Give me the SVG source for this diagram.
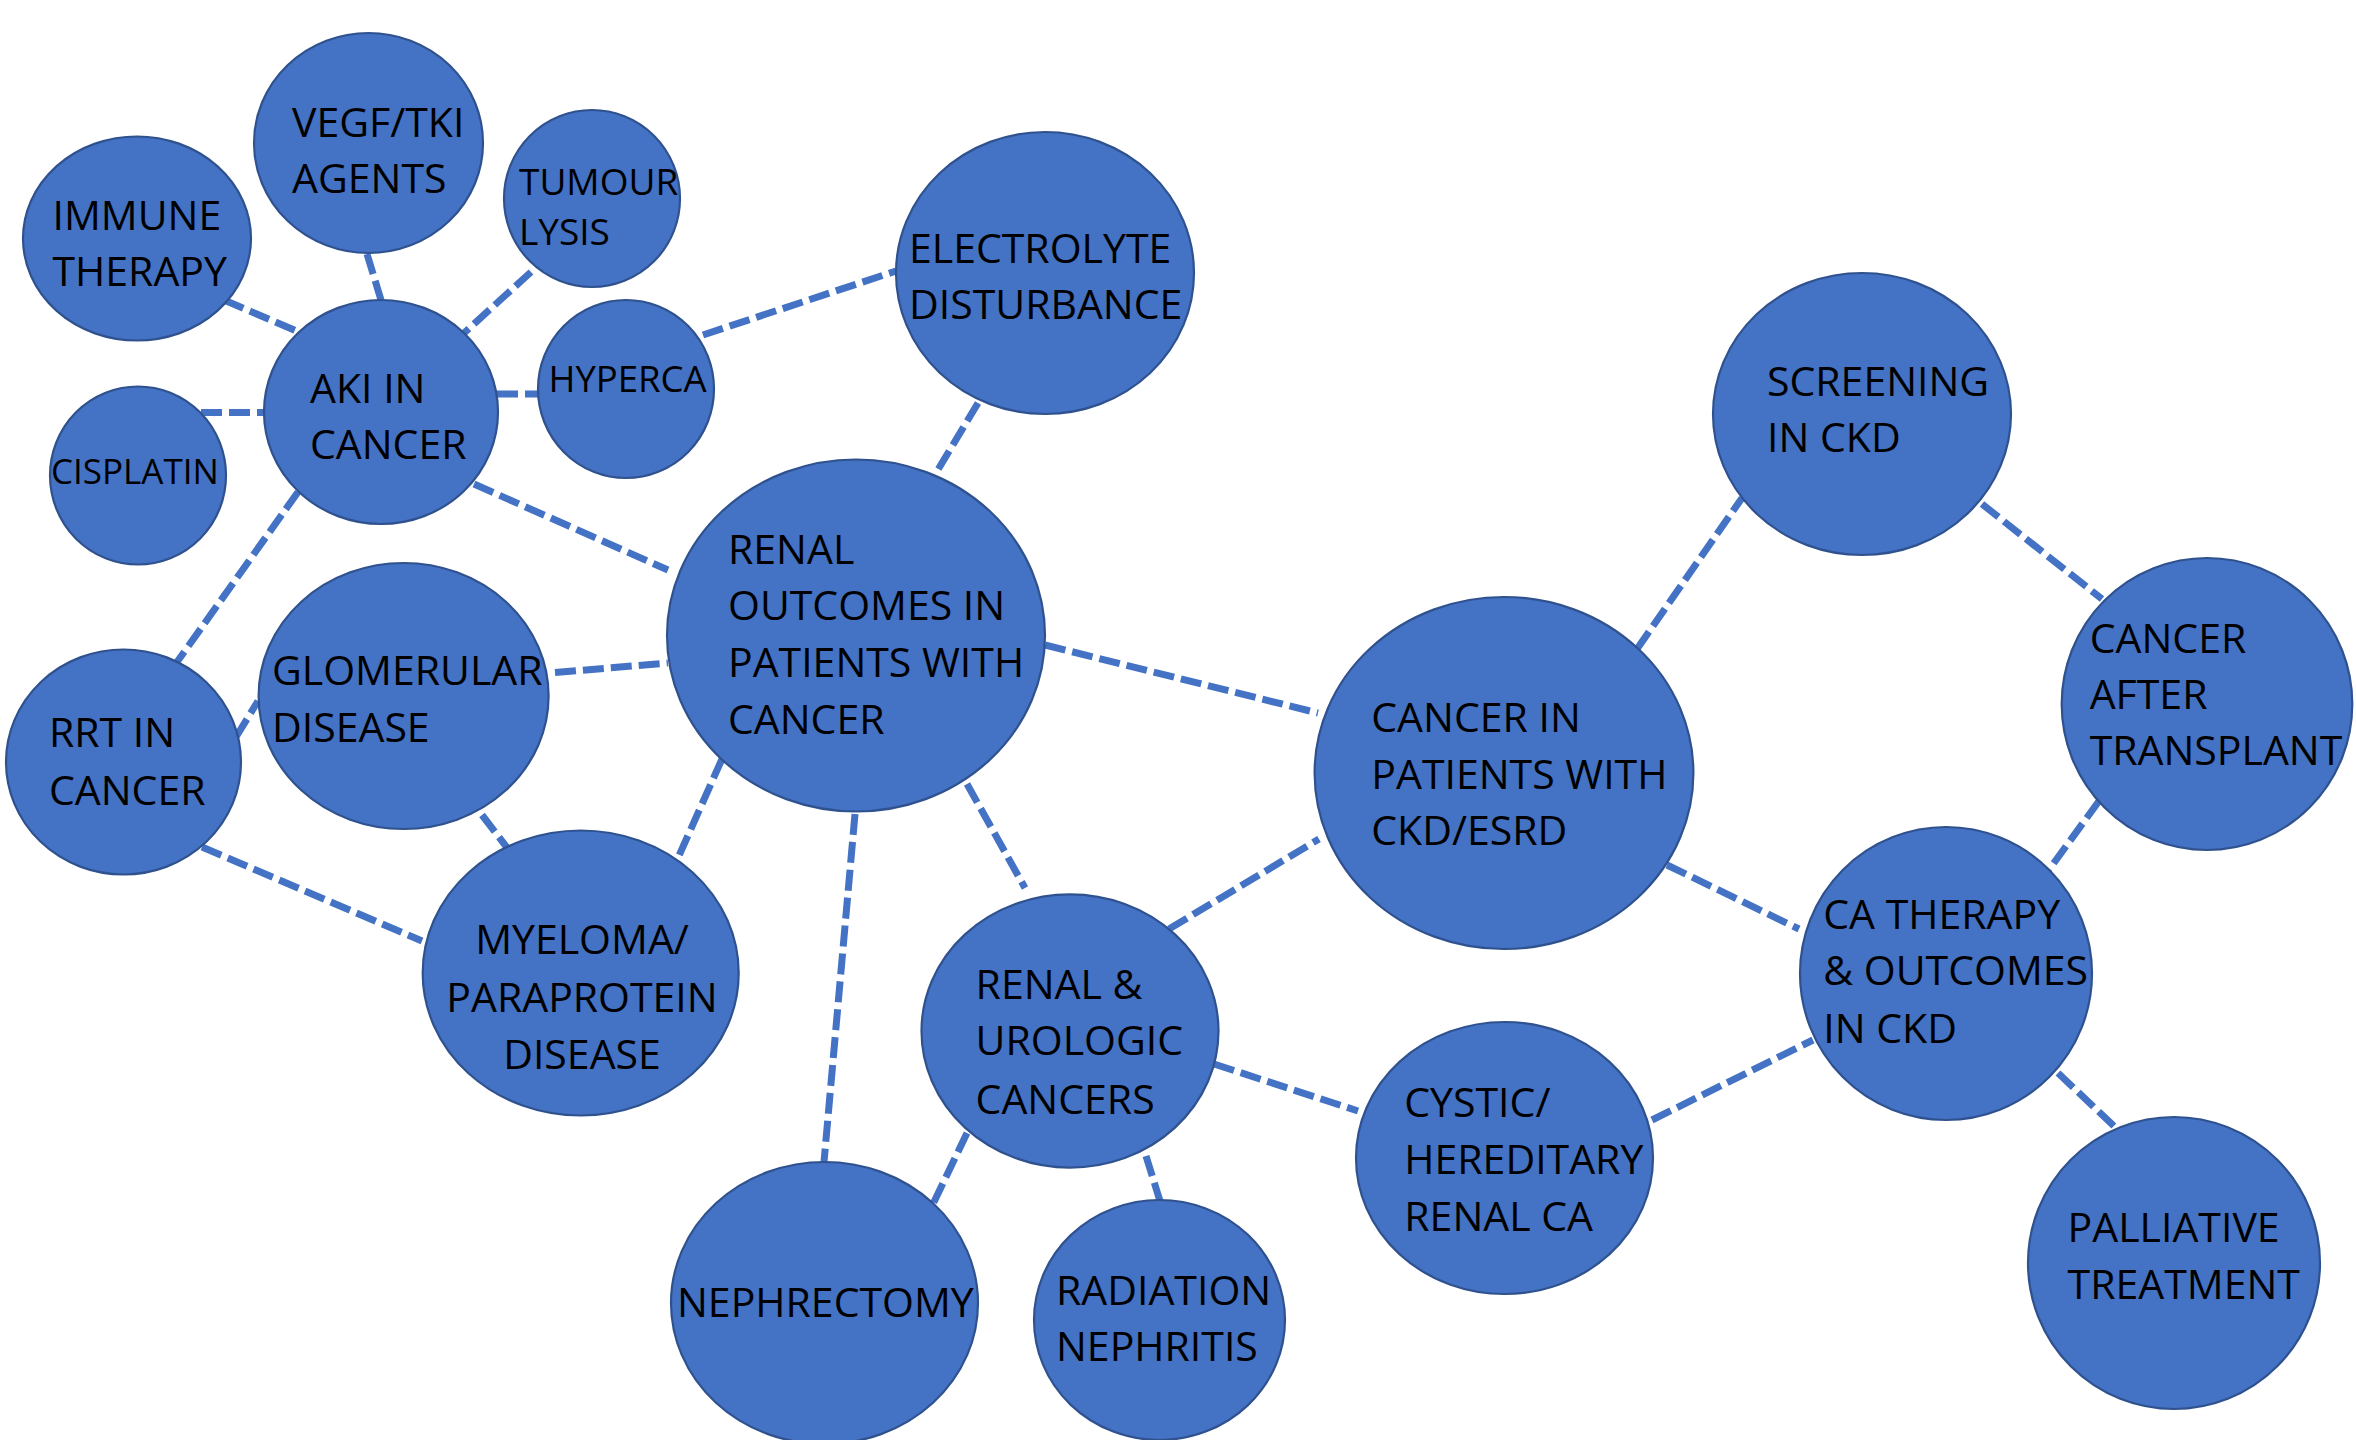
<svg xmlns="http://www.w3.org/2000/svg" width="2356" height="1440" viewBox="0 0 2356 1440">
<style>
.n ellipse{fill:#4472C4;stroke:#2F528F;stroke-width:2.2}
.n text{font-family:"Open Sans","Noto Sans","Liberation Sans",sans-serif;font-size:41px;fill:#000}
.n text.s37{font-size:37px}
.n text.s36{font-size:36.5px}
.n text.s35{font-size:35px}
#connectors line{stroke:#4472C4;stroke-width:7;stroke-dasharray:21 7;fill:none}
</style>
<rect width="2356" height="1440" fill="#fff"/>
<g id="connectors">
<line x1="224" y1="300" x2="301" y2="333"/>
<line x1="367" y1="254" x2="381" y2="300"/>
<line x1="531" y1="272" x2="464" y2="333"/>
<line x1="497" y1="394" x2="540" y2="394"/>
<line x1="201" y1="412.5" x2="264" y2="412.5"/>
<line x1="474" y1="484" x2="668" y2="570"/>
<line x1="298" y1="492" x2="177" y2="662"/>
<line x1="703" y1="335" x2="896" y2="271"/>
<line x1="978" y1="403" x2="936" y2="473"/>
<line x1="236" y1="737" x2="258" y2="701"/>
<line x1="555" y1="672.5" x2="668" y2="663"/>
<line x1="202" y1="847" x2="422" y2="941"/>
<line x1="482" y1="815" x2="508" y2="849"/>
<line x1="722" y1="759" x2="678" y2="858"/>
<line x1="855" y1="814" x2="824" y2="1162"/>
<line x1="967" y1="784" x2="1025" y2="888"/>
<line x1="1045" y1="645" x2="1318" y2="713"/>
<line x1="1169" y1="929" x2="1319" y2="839"/>
<line x1="967" y1="1133" x2="933" y2="1204"/>
<line x1="1146" y1="1156" x2="1160" y2="1201"/>
<line x1="1214" y1="1064" x2="1358" y2="1111"/>
<line x1="1652" y1="1120" x2="1813" y2="1040"/>
<line x1="1667" y1="865" x2="1799" y2="929"/>
<line x1="1637" y1="649" x2="1742" y2="498"/>
<line x1="1982" y1="504" x2="2102" y2="599"/>
<line x1="2099" y1="801" x2="2048" y2="871"/>
<line x1="2058" y1="1073" x2="2116" y2="1128"/>
</g>
<g id="n-immune" class="n"><ellipse cx="137" cy="238.5" rx="114" ry="102"/><text x="52.5" y="229.6">IMMUNE</text><text x="52.5" y="286">THERAPY</text></g>
<g id="n-vegf" class="n"><ellipse cx="368.5" cy="143" rx="114.5" ry="110"/><text x="292" y="136.6">VEGF/TKI</text><text x="292" y="193">AGENTS</text></g>
<g id="n-tumour" class="n"><ellipse cx="592" cy="198.5" rx="88" ry="88.5"/><text class="s37" x="519" y="195">TUMOUR</text><text class="s37" x="519" y="245">LYSIS</text></g>
<g id="n-aki" class="n"><ellipse cx="381" cy="412" rx="117" ry="112"/><text x="310" y="402.6">AKI IN</text><text x="310" y="459">CANCER</text></g>
<g id="n-hyperca" class="n"><ellipse cx="626" cy="389" rx="88" ry="89"/><text class="s36" x="548.5" y="392">HYPERCA</text></g>
<g id="n-cisplatin" class="n"><ellipse cx="138" cy="475.5" rx="88" ry="89"/><text class="s35" x="51" y="484">CISPLATIN</text></g>
<g id="n-electrolyte" class="n"><ellipse cx="1045" cy="273" rx="149" ry="141"/><text x="909" y="263">ELECTROLYTE</text><text x="909" y="319">DISTURBANCE</text></g>
<g id="n-renal-outcomes" class="n"><ellipse cx="856" cy="635.5" rx="189" ry="176"/><text x="728" y="564">RENAL</text><text x="728" y="620">OUTCOMES IN</text><text x="728" y="677">PATIENTS WITH</text><text x="728" y="734">CANCER</text></g>
<g id="n-glomerular" class="n"><ellipse cx="403.6" cy="696" rx="145" ry="133"/><text x="272" y="685">GLOMERULAR</text><text x="272" y="742">DISEASE</text></g>
<g id="n-rrt" class="n"><ellipse cx="123.5" cy="762" rx="117.5" ry="112.5"/><text x="49" y="747">RRT IN</text><text x="49" y="805">CANCER</text></g>
<g id="n-myeloma" class="n"><ellipse cx="580.7" cy="973" rx="158" ry="142.5"/><text x="582" y="954" text-anchor="middle">MYELOMA/</text><text x="582" y="1012" text-anchor="middle">PARAPROTEIN</text><text x="582" y="1069" text-anchor="middle">DISEASE</text></g>
<g id="n-nephrectomy" class="n"><ellipse cx="824.5" cy="1303" rx="153.5" ry="141"/><text x="677" y="1317">NEPHRECTOMY</text></g>
<g id="n-renal-urologic" class="n"><ellipse cx="1070" cy="1031" rx="148.5" ry="136.6"/><text x="975.6" y="998.7">RENAL &amp;</text><text x="975.6" y="1055.2">UROLOGIC</text><text x="975.6" y="1113.5">CANCERS</text></g>
<g id="n-radiation" class="n"><ellipse cx="1159.5" cy="1320" rx="125.5" ry="120"/><text x="1056" y="1305.4">RADIATION</text><text x="1056" y="1360.5">NEPHRITIS</text></g>
<g id="n-cystic" class="n"><ellipse cx="1504.5" cy="1158" rx="148.5" ry="136"/><text x="1404.3" y="1116.7">CYSTIC/</text><text x="1404.3" y="1173.6">HEREDITARY</text><text x="1404.3" y="1230.5">RENAL CA</text></g>
<g id="n-cancer-ckd" class="n"><ellipse cx="1504" cy="773" rx="189.4" ry="176"/><text x="1371.3" y="732">CANCER IN</text><text x="1371.3" y="789.3">PATIENTS WITH</text><text x="1371.3" y="845.3">CKD/ESRD</text></g>
<g id="n-screening" class="n"><ellipse cx="1862" cy="414" rx="149" ry="141"/><text x="1767" y="396">SCREENING</text><text x="1767" y="452.3">IN CKD</text></g>
<g id="n-transplant" class="n"><ellipse cx="2207" cy="704" rx="145.3" ry="146"/><text x="2089.7" y="652.5">CANCER</text><text x="2089.7" y="709">AFTER</text><text x="2089.7" y="765.4">TRANSPLANT</text></g>
<g id="n-ca-therapy" class="n"><ellipse cx="1946" cy="973.5" rx="146" ry="146.5"/><text x="1823.3" y="929.3">CA THERAPY</text><text x="1823.3" y="985.3">&amp; OUTCOMES</text><text x="1823.3" y="1043">IN CKD</text></g>
<g id="n-palliative" class="n"><ellipse cx="2174" cy="1263" rx="146" ry="146"/><text x="2067.6" y="1242">PALLIATIVE</text><text x="2067.6" y="1298.6">TREATMENT</text></g>
</svg>
